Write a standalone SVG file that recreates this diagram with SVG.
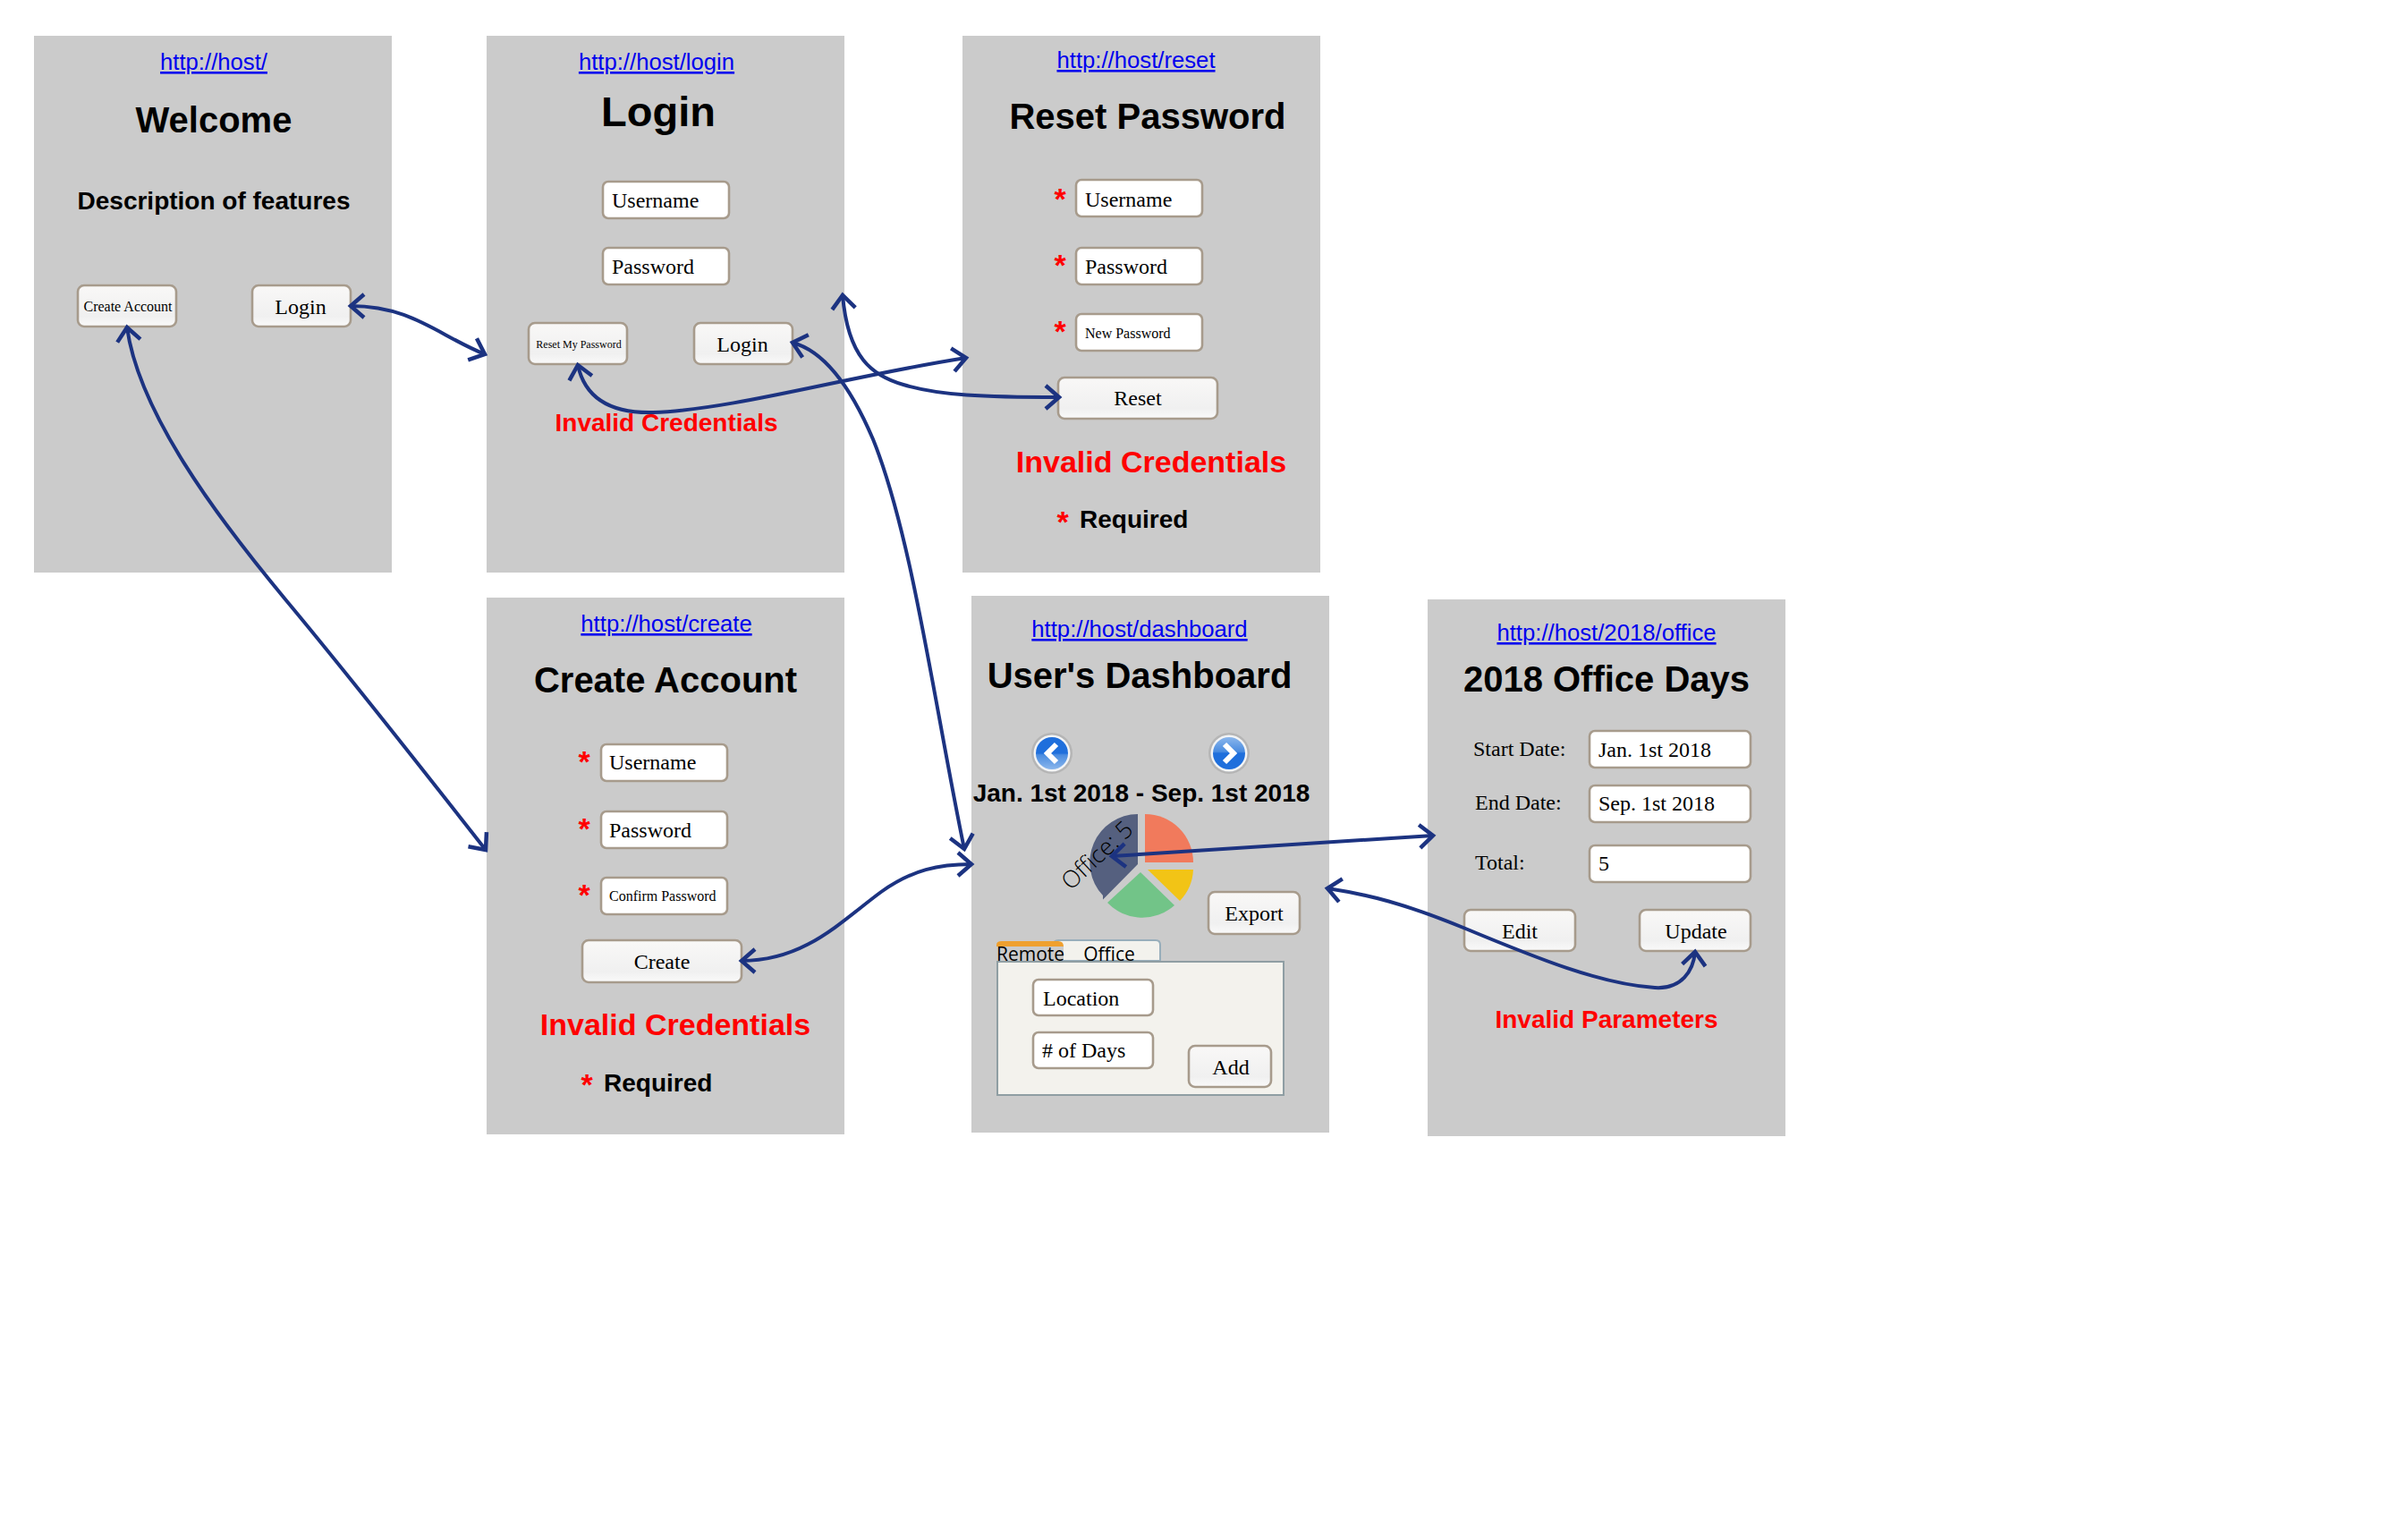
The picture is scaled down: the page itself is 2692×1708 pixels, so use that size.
<svg xmlns="http://www.w3.org/2000/svg" width="2692" height="1708" viewBox="0 0 2692 1708">
<style>
text{font-family:"Liberation Sans",Arial,sans-serif}
.panel{fill:#cbcbcb}
.url{font-size:25.7px;fill:#0000ee;text-decoration:underline;text-anchor:middle}
.title{font-size:40px;font-weight:700;fill:#000;text-anchor:middle}
.err{font-size:34px;font-weight:700;fill:#f00;text-anchor:middle}
.req{font-size:28px;font-weight:700;fill:#000}
.star{font-size:34px;font-weight:700;fill:#f00;text-anchor:middle}
.inp{fill:#fff;stroke:#a79b8c;stroke-width:2.6}
.btn{fill:url(#btnGrad);stroke:#a79b8c;stroke-width:2.6}
.tt{font-family:"Liberation Serif","Times New Roman",serif;font-size:24px;fill:#000}
.c{text-anchor:middle}
.s16{font-size:16px}
.s12{font-size:12px}
.tab{font-family:"Open Sans",sans-serif;font-size:21px;fill:#000}
.conn{fill:none;stroke:#1c3381;stroke-width:4;marker-start:url(#arrow);marker-end:url(#arrow)}
</style>
<defs>
<linearGradient id="btnGrad" x1="0" y1="0" x2="0" y2="1"><stop offset="0" stop-color="#f9f8f7"/><stop offset="0.75" stop-color="#f0f0f0"/><stop offset="1" stop-color="#fafafa"/></linearGradient>
<linearGradient id="blue" x1="0" y1="0" x2="0" y2="1"><stop offset="0" stop-color="#1f6fdc"/><stop offset="0.5" stop-color="#1f6fdc"/><stop offset="0.55" stop-color="#4a8ce0"/><stop offset="1" stop-color="#8ab6ec"/></linearGradient>
<marker id="arrow" markerUnits="userSpaceOnUse" markerWidth="40" markerHeight="40" refX="20" refY="20" orient="auto-start-reverse" overflow="visible"><path d="M5,7 L20,20 L5,33" fill="none" stroke="#1c3381" stroke-width="4.5"/></marker>
</defs>
<rect width="2692" height="1708" fill="#fff"/>

<g id="welcome">
<rect class="panel" x="38" y="40" width="400" height="600"/>
<text class="url" x="239" y="78">http://host/</text>
<text class="title" x="239" y="148">Welcome</text>
<text x="239" y="234" font-size="28" font-weight="700" text-anchor="middle">Description of features</text>
<rect class="btn" x="87" y="319" width="110" height="46" rx="7"/>
<text class="tt s16 c" x="143" y="348">Create Account</text>
<rect class="btn" x="282" y="319" width="110" height="46" rx="7"/>
<text class="tt c" x="336" y="351">Login</text>
</g>

<g id="login">
<rect class="panel" x="544" y="40" width="400" height="600"/>
<text class="url" x="734" y="78">http://host/login</text>
<text x="736" y="141" font-size="47" font-weight="700" text-anchor="middle">Login</text>
<rect class="inp" x="674" y="203" width="141" height="41" rx="6"/>
<text class="tt" x="684" y="232">Username</text>
<rect class="inp" x="674" y="277" width="141" height="41" rx="6"/>
<text class="tt" x="684" y="306">Password</text>
<rect class="btn" x="591" y="361" width="110" height="46" rx="7"/>
<text class="tt s12 c" x="647" y="389">Reset My Password</text>
<rect class="btn" x="776" y="361" width="110" height="46" rx="7"/>
<text class="tt c" x="830" y="393">Login</text>
<text class="err" style="font-size:28px" x="745" y="482">Invalid Credentials</text>
</g>

<g id="reset">
<rect class="panel" x="1076" y="40" width="400" height="600"/>
<text class="url" x="1270" y="76">http://host/reset</text>
<text class="title" x="1283" y="144">Reset Password</text>
<text class="star" x="1185" y="234">*</text>
<rect class="inp" x="1203" y="201" width="141" height="41" rx="6"/>
<text class="tt" x="1213" y="231">Username</text>
<text class="star" x="1185" y="308">*</text>
<rect class="inp" x="1203" y="277" width="141" height="41" rx="6"/>
<text class="tt" x="1213" y="306">Password</text>
<text class="star" x="1185" y="382">*</text>
<rect class="inp" x="1203" y="351" width="141" height="41" rx="6"/>
<text class="tt s16" x="1213" y="378">New Password</text>
<rect class="btn" x="1183" y="422" width="178" height="46" rx="7"/>
<text class="tt c" x="1272" y="453">Reset</text>
<text class="err" x="1287" y="528">Invalid Credentials</text>
<text class="star" x="1188" y="595">*</text>
<text class="req" x="1207" y="590">Required</text>
</g>

<g id="create">
<rect class="panel" x="544" y="668" width="400" height="600"/>
<text class="url" x="745" y="706">http://host/create</text>
<text class="title" x="744" y="774">Create Account</text>
<text class="star" x="653" y="863">*</text>
<rect class="inp" x="672" y="832" width="141" height="41" rx="6"/>
<text class="tt" x="681" y="860">Username</text>
<text class="star" x="653" y="938">*</text>
<rect class="inp" x="672" y="907" width="141" height="41" rx="6"/>
<text class="tt" x="681" y="936">Password</text>
<text class="star" x="653" y="1012">*</text>
<rect class="inp" x="672" y="981" width="141" height="41" rx="6"/>
<text class="tt s16" x="681" y="1007">Confirm Password</text>
<rect class="btn" x="651" y="1051" width="178" height="47" rx="7"/>
<text class="tt c" x="740" y="1083">Create</text>
<text class="err" x="755" y="1157">Invalid Credentials</text>
<text class="star" x="656" y="1224">*</text>
<text class="req" x="675" y="1220">Required</text>
</g>

<g id="dashboard">
<rect class="panel" x="1086" y="666" width="400" height="600"/>
<text class="url" x="1274" y="712">http://host/dashboard</text>
<text class="title" x="1274" y="769">User's Dashboard</text>
<g id="nav-prev">
<circle cx="1176" cy="842" r="23" fill="#b5b5b5"/><circle cx="1176" cy="842" r="20.5" fill="#f2f4f6"/><circle cx="1176" cy="842" r="18" fill="url(#blue)"/>
<path d="M1181,832 L1171,842 L1181,852" fill="none" stroke="#fff" stroke-width="6"/>
</g>
<g id="nav-next">
<circle cx="1374" cy="842" r="23" fill="#b5b5b5"/><circle cx="1374" cy="842" r="20.5" fill="#f2f4f6"/><circle cx="1374" cy="842" r="18" fill="url(#blue)" transform="rotate(180 1374 842)"/>
<path d="M1369,832 L1379,842 L1369,852" fill="none" stroke="#fff" stroke-width="6"/>
</g>
<text x="1276" y="896" font-size="28" font-weight="700" text-anchor="middle">Jan. 1st 2018 - Sep. 1st 2018</text>
<g id="pie">
<path d="M1280,964 L1280,910 A54,54 0 0 1 1334,964 Z" fill="#f17a5c"/>
<path d="M1283,972 L1334,972 A54,54 0 0 1 1319,1007 Z" fill="#f2c416"/>
<path d="M1275,975 L1313,1012 A54,54 0 0 1 1238,1009 Z" fill="#72c488"/>
<path d="M1272,910 L1272,966 L1233,1005.5 L1233,1001 A54,54 0 0 1 1272,910 Z" fill="#55607f"/>
<text transform="translate(1197,996) rotate(-43)" font-size="26.5" style="font-family:'Open Sans',sans-serif;font-weight:300" fill="#000">Office: 5</text>
</g>
<rect class="btn" x="1351" y="997" width="102" height="47" rx="7"/>
<text class="tt c" x="1402" y="1029">Export</text>
<path d="M1178,1074 L1178,1056 Q1178,1051 1183,1051 L1292,1051 Q1297,1051 1297,1056 L1297,1074 Z" fill="#f3f2ed" stroke="#98aebb" stroke-width="2"/>
<rect x="1114" y="1058" width="75" height="17" fill="#cbcbcb"/>
<path d="M1114,1058 L1114,1056 Q1114,1052 1120,1052 L1183,1052 Q1189,1052 1189,1058 Z" fill="#efa02f"/>
<text class="tab" x="1114" y="1074">Remote</text>
<text class="tab c" x="1240" y="1074">Office</text>
<rect x="1115" y="1075" width="320" height="149" fill="#f3f2ed" stroke="#8f9ea3" stroke-width="2"/>
<rect class="inp" x="1155" y="1095" width="134" height="40" rx="6"/>
<text class="tt" x="1166" y="1124">Location</text>
<rect class="inp" x="1155" y="1154" width="134" height="40" rx="6"/>
<text class="tt" x="1165" y="1182"># of Days</text>
<rect class="btn" x="1329" y="1169" width="92" height="46" rx="7"/>
<text class="tt c" x="1376" y="1201">Add</text>
</g>

<g id="office">
<rect class="panel" x="1596" y="670" width="400" height="600"/>
<text class="url" x="1796" y="716">http://host/2018/office</text>
<text class="title" x="1796" y="773">2018 Office Days</text>
<text class="tt" x="1647" y="845">Start Date:</text>
<rect class="inp" x="1777" y="817" width="180" height="41" rx="6"/>
<text class="tt" x="1787" y="846">Jan. 1st 2018</text>
<text class="tt" x="1649" y="905">End Date:</text>
<rect class="inp" x="1777" y="878" width="180" height="41" rx="6"/>
<text class="tt" x="1787" y="906">Sep. 1st 2018</text>
<text class="tt" x="1649" y="972">Total:</text>
<rect class="inp" x="1777" y="945" width="180" height="41" rx="6"/>
<text class="tt" x="1787" y="973">5</text>
<rect class="btn" x="1637" y="1017" width="124" height="46" rx="7"/>
<text class="tt c" x="1699" y="1049">Edit</text>
<rect class="btn" x="1833" y="1017" width="124" height="46" rx="7"/>
<text class="tt c" x="1896" y="1049">Update</text>
<text class="err" style="font-size:28px" x="1796" y="1149">Invalid Parameters</text>
</g>

<g id="connectors">
<path class="conn" d="M392,342 C460,342 490,375 542,396"/>
<path class="conn" d="M142,366 C155,460 240,575 319,670 C400,767 480,870 543,950"/>
<path class="conn" d="M646,408 C655,450 690,462 730,461 C820,458 950,420 1080,400"/>
<path class="conn" d="M942,330 C948,400 975,420 1010,430 C1050,442 1100,444 1184,444"/>
<path class="conn" d="M886,383 C920,392 950,430 976,491 C1020,600 1045,790 1078,949"/>
<path class="conn" d="M829,1074 C900,1074 940,1030 985,997 C1020,972 1050,966 1086,966"/>
<path class="conn" d="M1243,957 L1602,934"/>
<path class="conn" d="M1484,993 C1530,1000 1570,1010 1636,1037 C1720,1072 1790,1100 1850,1104 C1880,1106 1893,1085 1895,1064"/>
</g>
</svg>
